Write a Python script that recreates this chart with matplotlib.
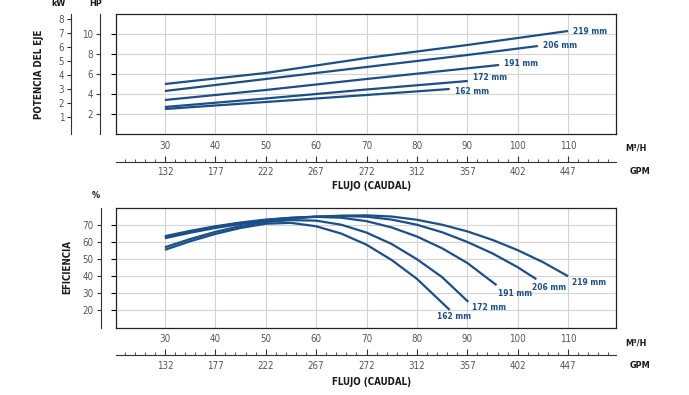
import numpy as np
import matplotlib
matplotlib.use('Agg')
from matplotlib import pyplot as plt
from matplotlib import font_manager

names = {f.name for f in font_manager.fontManager.ttflist}
cond = 'Liberation Sans Narrow' if 'Liberation Sans Narrow' in names else 'DejaVu Sans'
plt.rcParams['font.family'] = [cond, 'DejaVu Sans']
plt.rcParams['font.stretch'] = 'condensed'

BLUE = '#1b4f88'
GRID = '#d4d4d4'
TICK = '#555555'
DARK = '#1a1a1a'

# flow axis
flow_ticks = [30, 40, 50, 60, 70, 80, 90, 100, 110]
gpm_labels = ['132', '177', '222', '267', '272', '312', '357', '402', '447']
sizes = ['219 mm', '206 mm', '191 mm', '172 mm', '162 mm']

# shaft power (HP)
pw_flow = {
    '219 mm': [30, 50, 70, 90, 110],
    '206 mm': [30, 50, 70, 90, 104],
    '191 mm': [30, 50, 70, 96.3],
    '172 mm': [30, 50, 70, 90.1],
    '162 mm': [30, 50, 70, 86.5],
}
pw_hp = {
    '219 mm': [5.0, 6.1, 7.6, 8.9, 10.3],
    '206 mm': [4.3, 5.5, 6.7, 7.9, 8.8],
    '191 mm': [3.4, 4.4, 5.5, 6.9],
    '172 mm': [2.7, 3.55, 4.45, 5.3],
    '162 mm': [2.5, 3.2, 3.9, 4.5],
}

# efficiency (%)
ef_flow = {
    '219 mm': [30, 35, 40, 45, 50, 55, 60, 65, 70, 75, 80, 85, 90, 95, 100, 105, 110],
    '206 mm': [30, 35, 40, 45, 50, 55, 60, 65, 70, 75, 80, 85, 90, 95, 100, 103.7],
    '191 mm': [30, 35, 40, 45, 50, 55, 60, 65, 70, 75, 80, 85, 90, 95.8],
    '172 mm': [30, 35, 40, 45, 50, 55, 60, 65, 70, 75, 80, 85, 90.2],
    '162 mm': [30, 35, 40, 45, 50, 55, 60, 65, 70, 75, 80, 86.5],
}
ef_val = {
    '219 mm': [62.3, 65.5, 68.3, 70.6, 72.5, 73.9, 74.9, 75.5, 75.7, 75.0, 73.1, 70.2, 66.3, 61.3, 55.3, 48.3, 40.0],
    '206 mm': [62.8, 66.0, 68.8, 71.1, 72.9, 74.2, 75.0, 75.3, 74.9, 73.2, 70.2, 65.8, 60.1, 53.4, 45.3, 38.3],
    '191 mm': [63.5, 66.6, 69.3, 71.5, 73.2, 74.3, 74.8, 74.3, 72.3, 68.6, 63.3, 56.4, 47.8, 34.8],
    '172 mm': [57.0, 61.8, 66.0, 69.4, 71.8, 72.9, 72.6, 70.2, 65.6, 58.9, 50.0, 39.5, 25.0],
    '162 mm': [55.5, 60.5, 64.8, 68.3, 70.8, 71.3, 69.3, 65.0, 58.5, 49.5, 38.5, 20.3],
}

fig = plt.figure(figsize=(6.89, 3.95), dpi=100)
XL = (20.3, 119.5)


def flow_axis(ax, fig_y_m3h, fig_y_gpm, fig_y_title):
    ax.set_xlim(XL)
    ax.set_xticks(flow_ticks)
    ax.tick_params(axis='x', length=0, pad=5, labelsize=7, labelcolor=TICK)
    tw = ax.twiny()
    tw.set_xlim(XL)
    tw.xaxis.set_ticks_position('bottom')
    tw.xaxis.set_label_position('bottom')
    for s in ['top', 'left', 'right']:
        tw.spines[s].set_visible(False)
    tw.spines['bottom'].set_position(('outward', 20))
    tw.spines['bottom'].set_linewidth(0.8)
    tw.spines['bottom'].set_color('#333333')
    tw.set_xticks(flow_ticks)
    tw.set_xticklabels(gpm_labels)
    tw.set_xticks(np.arange(22, 120, 2), minor=True)
    tw.tick_params(axis='x', which='major', direction='in', length=4, width=0.8,
                   pad=4, labelsize=7, labelcolor=TICK, color='#333333')
    tw.tick_params(axis='x', which='minor', direction='in', length=2, width=0.6,
                   color='#333333')
    fig.text(636 / 689, 1 - fig_y_m3h / 395, 'M³/H', ha='center', va='center',
             fontsize=6.5, fontweight='bold', color=DARK)
    fig.text(640 / 689, 1 - fig_y_gpm / 395, 'GPM', ha='center', va='center',
             fontsize=6.5, fontweight='bold', color=DARK)
    fig.text(372 / 689, 1 - fig_y_title / 395, 'FLUJO (CAUDAL)', ha='center',
             va='center', fontsize=7, fontweight='bold', color=DARK)


def left_axis(ax, offset, ylim, ticks):
    a = ax.twinx()
    a.set_ylim(ylim)
    a.yaxis.set_ticks_position('left')
    for s in ['top', 'bottom', 'right']:
        a.spines[s].set_visible(False)
    a.spines['left'].set_position(('outward', offset))
    a.spines['left'].set_linewidth(0.8)
    a.spines['left'].set_color('#333333')
    a.set_yticks(ticks)
    a.tick_params(axis='y', length=3, width=0.8, pad=2, labelsize=7,
                  labelcolor=TICK, color='#333333')
    return a


def frame(ax):
    for s in ax.spines.values():
        s.set_linewidth(0.9)
        s.set_color('#222222')
    ax.grid(True, color=GRID, linewidth=0.8)
    ax.set_axisbelow(True)
    ax.tick_params(axis='y', left=False, labelleft=False)


# ---- power panel ----
ax1 = fig.add_axes([116 / 689, 1 - 134 / 395, 500 / 689, 120 / 395])
ax1.set_ylim(0, 12)
ax1.set_yticks([2, 4, 6, 8, 10])
frame(ax1)
for s in sizes:
    ax1.plot(pw_flow[s], pw_hp[s], color=BLUE, lw=1.6, solid_capstyle='butt')
pw_lab_dy = {'219 mm': 0, '206 mm': 0, '191 mm': 0.15, '172 mm': 0.4, '162 mm': -0.3}
for s in sizes:
    ax1.text(pw_flow[s][-1] + 1, pw_hp[s][-1] + pw_lab_dy[s], s, fontsize=6,
             fontweight='bold', color=BLUE, ha='left', va='center')
left_axis(ax1, 11.5, (0, 12), [2, 4, 6, 8, 10])
left_axis(ax1, 32.4, (-0.21, 8.36), [1, 2, 3, 4, 5, 6, 7, 8])
flow_axis(ax1, 148, 172, 186)
fig.text(58 / 689, 1 - 4 / 395, 'kW', ha='center', va='center', fontsize=6.5,
         fontweight='bold', color=DARK)
fig.text(96 / 689, 1 - 4 / 395, 'HP', ha='center', va='center', fontsize=6.5,
         fontweight='bold', color=DARK)
fig.text(39 / 689, 1 - 74 / 395, 'POTENCIA DEL EJE', rotation=90, ha='center',
         va='center', fontsize=7, fontweight='bold', color=DARK)

# ---- efficiency panel ----
ax2 = fig.add_axes([116 / 689, 1 - 327.5 / 395, 500 / 689, 119.5 / 395])
ax2.set_ylim(10, 80)
ax2.set_yticks([20, 30, 40, 50, 60, 70])
frame(ax2)
for s in sizes:
    ax2.plot(ef_flow[s], ef_val[s], color=BLUE, lw=1.6, solid_capstyle='butt')
ef_lab = {'219 mm': (0.8, -3.4), '206 mm': (-0.9, -4.6), '191 mm': (0.3, -4.7),
          '172 mm': (0.7, -3.0), '162 mm': (-2.5, -3.8)}
for s in sizes:
    dx, dy = ef_lab[s]
    ax2.text(ef_flow[s][-1] + dx, ef_val[s][-1] + dy, s, fontsize=6,
             fontweight='bold', color=BLUE, ha='left', va='center')
left_axis(ax2, 11, (10, 80), [20, 30, 40, 50, 60, 70])
flow_axis(ax2, 343, 366, 382)
fig.text(96 / 689, 1 - 196 / 395, '%', ha='center', va='center', fontsize=6.5,
         fontweight='bold', color=DARK)
fig.text(67 / 689, 1 - 267 / 395, 'EFICIENCIA', rotation=90, ha='center',
         va='center', fontsize=7, fontweight='bold', color=DARK)

fig.savefig('out.png', dpi=100)
